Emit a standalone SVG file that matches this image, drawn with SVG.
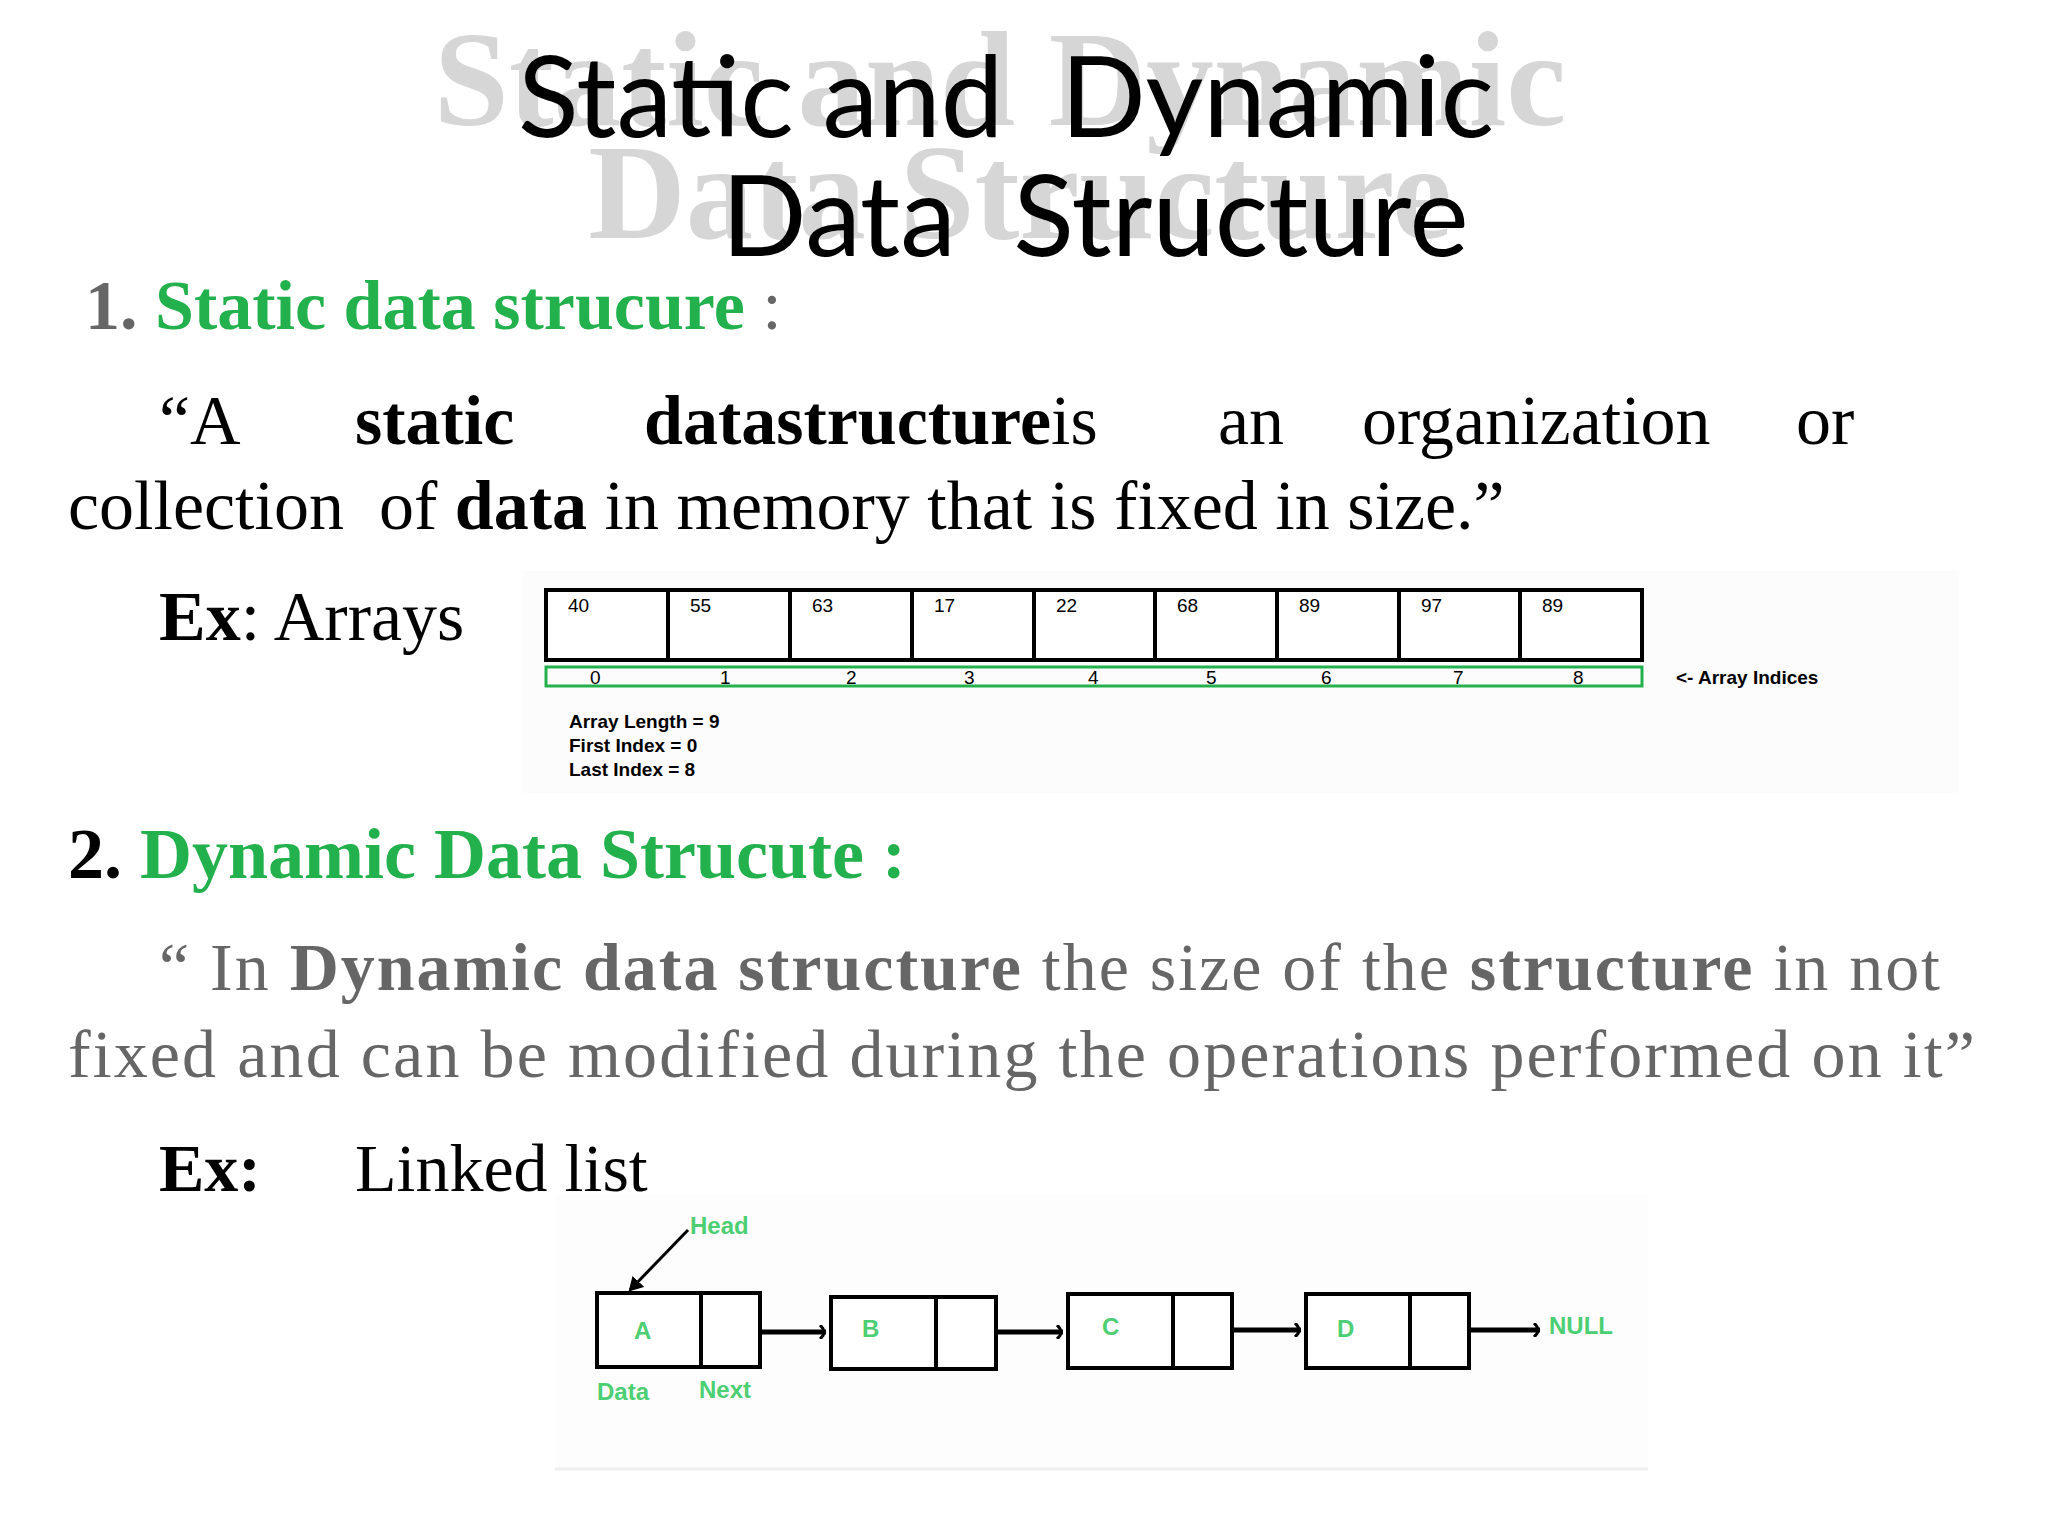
<svg xmlns="http://www.w3.org/2000/svg" width="2048" height="1536" viewBox="0 0 2048 1536">
<style>
.s{font-family:"Liberation Serif",serif}
.b{font-weight:bold}
.g{fill:#22b14c}
.cell{fill:#fff;stroke:#000;stroke-width:4}
.sm{font-family:"Liberation Sans",Arial,sans-serif;font-size:19px}
.lg{font-family:"Liberation Sans",Arial,sans-serif;font-size:24px;fill:#4ccf72;font-weight:bold}
</style>
<defs>
<marker id="ah" markerWidth="10" markerHeight="14" refX="8" refY="7" orient="auto" markerUnits="userSpaceOnUse"><path d="M2,0 Q10,7 2,14" fill="none" stroke="#000" stroke-width="3"/></marker>
<marker id="hh" markerWidth="16" markerHeight="16" refX="12" refY="8" orient="auto" markerUnits="userSpaceOnUse"><path d="M0,0 L14,8 L0,16 z" fill="#000"/></marker>
</defs>
<rect width="2048" height="1536" fill="#fff"/>
<g id="title">
<text x="1000" y="125" text-anchor="middle" class="s" font-size="135" fill="#d6d6d6" font-weight="bold">Static and Dynamic</text>
<text x="1020" y="238" text-anchor="middle" class="s" font-size="135" fill="#d6d6d6" font-weight="bold">Data Structure</text>
<text x="1006" y="137" text-anchor="middle" font-family="Lato,'Liberation Sans',sans-serif" font-size="112" fill="#000" xml:space="preserve">Static and  Dynamic</text>
<text x="1095" y="256" text-anchor="middle" font-family="Lato,'Liberation Sans',sans-serif" font-size="112" fill="#000" xml:space="preserve">Data  Structure</text>
</g>
<g id="sec1" class="s">
<text x="85" y="329" font-size="70" class="b" fill="#666">1. <tspan class="g">Static data strucure</tspan><tspan font-weight="normal"> :</tspan></text>
<text y="444" font-size="70"><tspan x="159">“A</tspan><tspan x="355" class="b">static</tspan><tspan x="644" class="b">datastructure</tspan><tspan font-weight="normal">is</tspan><tspan x="1218">an</tspan><tspan x="1362">organization</tspan><tspan x="1796">or</tspan></text>
<text x="68" y="529" font-size="70" xml:space="preserve">collection  of <tspan class="b">data</tspan> in memory that is fixed in size.”</text>
<text x="159" y="640" font-size="70"><tspan class="b">Ex</tspan>: Arrays</text>
</g>
<g id="array">
<rect x="522" y="571" width="1437" height="222" fill="#fcfcfc"/>
<rect x="546" y="590" width="1096" height="70" class="cell"/>
<g stroke="#000" stroke-width="4">
<line x1="668" y1="590" x2="668" y2="660"/><line x1="790" y1="590" x2="790" y2="660"/><line x1="912" y1="590" x2="912" y2="660"/><line x1="1034" y1="590" x2="1034" y2="660"/><line x1="1155" y1="590" x2="1155" y2="660"/><line x1="1277" y1="590" x2="1277" y2="660"/><line x1="1399" y1="590" x2="1399" y2="660"/><line x1="1520" y1="590" x2="1520" y2="660"/>
</g>
<rect x="546" y="667" width="1096" height="19" fill="none" stroke="#22b14c" stroke-width="3"/>
<g class="sm">
<text x="568" y="612">40</text><text x="690" y="612">55</text><text x="812" y="612">63</text><text x="934" y="612">17</text><text x="1056" y="612">22</text><text x="1177" y="612">68</text><text x="1299" y="612">89</text><text x="1421" y="612">97</text><text x="1542" y="612">89</text>
<text x="590" y="684">0</text><text x="720" y="684">1</text><text x="846" y="684">2</text><text x="964" y="684">3</text><text x="1088" y="684">4</text><text x="1206" y="684">5</text><text x="1321" y="684">6</text><text x="1453" y="684">7</text><text x="1573" y="684">8</text>
<text x="1676" y="684" font-weight="bold">&lt;- Array Indices</text>
<text x="569" y="728" font-weight="bold">Array Length = 9</text>
<text x="569" y="752" font-weight="bold">First Index = 0</text>
<text x="569" y="776" font-weight="bold">Last Index = 8</text>
</g>
</g>
<g id="sec2" class="s">
<text x="68" y="878" font-size="72" class="b">2. <tspan class="g">Dynamic Data Strucute :</tspan></text>
<text x="159" y="990" font-size="68" fill="#666" textLength="1781">“ In <tspan class="b">Dynamic data structure</tspan> the size of the <tspan class="b">structure</tspan> in not</text>
<text x="68" y="1077" font-size="68" fill="#666" textLength="1907">fixed and can be modified during the operations performed on it”</text>
<text x="159" y="1191" font-size="68" class="b">Ex:</text>
<text x="355" y="1191" font-size="68">Linked list</text>
</g>
<g id="linkedlist">
<rect x="555" y="1195" width="1093" height="274" fill="#fdfdfd"/>
<line x1="555" y1="1469" x2="1648" y2="1469" stroke="#eee" stroke-width="3"/>
<rect x="597" y="1293" width="163" height="74" class="cell"/><line x1="701" y1="1293" x2="701" y2="1367" stroke="#000" stroke-width="4"/>
<rect x="831" y="1297" width="165" height="72" class="cell"/><line x1="936" y1="1297" x2="936" y2="1369" stroke="#000" stroke-width="4"/>
<rect x="1068" y="1294" width="164" height="74" class="cell"/><line x1="1173" y1="1294" x2="1173" y2="1368" stroke="#000" stroke-width="4"/>
<rect x="1306" y="1294" width="163" height="74" class="cell"/><line x1="1410" y1="1294" x2="1410" y2="1368" stroke="#000" stroke-width="4"/>
<text x="634" y="1339" class="lg">A</text><text x="862" y="1337" class="lg">B</text><text x="1102" y="1335" class="lg">C</text><text x="1337" y="1337" class="lg">D</text>
<text x="1549" y="1334" class="lg">NULL</text>
<text x="690" y="1234" class="lg">Head</text>
<text x="597" y="1400" class="lg">Data</text>
<text x="699" y="1398" class="lg">Next</text>
</g>
<g id="connectors" stroke="#000" stroke-width="5" fill="none">
<line x1="760" y1="1332" x2="826" y2="1332" marker-end="url(#ah)"/>
<line x1="996" y1="1332" x2="1063" y2="1332" marker-end="url(#ah)"/>
<line x1="1232" y1="1330" x2="1301" y2="1330" marker-end="url(#ah)"/>
<line x1="1469" y1="1330" x2="1540" y2="1330" marker-end="url(#ah)"/>
<line x1="688" y1="1230" x2="630" y2="1290" stroke-width="3" marker-end="url(#hh)"/>
</g>
</svg>
